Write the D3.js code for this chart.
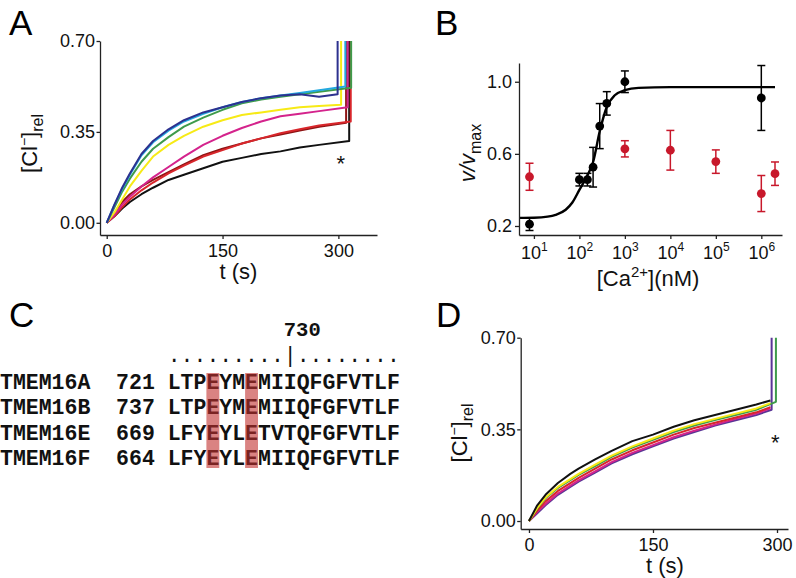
<!DOCTYPE html>
<html><head><meta charset="utf-8">
<script src="https://cdn.jsdelivr.net/npm/d3@7"></script>
<style>body{margin:0;background:#fff} svg{display:block}</style>
</head><body><svg id="fig" width="796" height="578"></svg>
<script>
// ---------------- DATA ----------------
// Panel A: Cl- uptake traces, values read at these times (s)
const tA = [0,10,20,30,45,60,80,100,125,150,175,200,225,250,275];
const cyanA    = [0,0.07,0.13,0.185,0.26,0.31,0.355,0.39,0.42,0.445,0.465,0.48,0.49,0.50,0.51];
const greenA   = [0,0.06,0.12,0.17,0.235,0.285,0.33,0.37,0.405,0.435,0.46,0.475,0.485,0.495,0.505];
const yellowA  = [0,0.04,0.09,0.14,0.20,0.255,0.30,0.335,0.37,0.395,0.415,0.425,0.435,0.445,0.45];
const magentaA = [0,0.03,0.07,0.10,0.14,0.175,0.215,0.255,0.30,0.335,0.365,0.39,0.41,0.42,0.43];
const darkredA = [0,0.035,0.08,0.11,0.14,0.165,0.195,0.225,0.26,0.285,0.305,0.325,0.34,0.355,0.37];
const redA     = [0,0.025,0.06,0.09,0.125,0.155,0.19,0.22,0.255,0.28,0.305,0.325,0.345,0.36,0.375];
const blackA   = [0,0.025,0.055,0.08,0.11,0.135,0.165,0.185,0.21,0.235,0.25,0.265,0.275,0.29,0.30];
const navyA    = [0,0.07,0.135,0.19,0.265,0.315,0.36,0.395,0.425,0.445,0.465,0.48,0.49,0.495,0.485];
const seriesA  = [blackA, darkredA, redA, magentaA, yellowA, greenA, cyanA, navyA];
const colorsA  = ["#111111","#8e1414","#d8262b","#d4238c","#f7ea16","#3f9b4b","#23a9df","#2d318f"];
const endTA    = [314, 310, 316, 312, 303.5, 316.5, 309, 299];   // time of the final jump
const endVA    = [0.315, 0.385, 0.39, 0.445, 0.455, 0.52, 0.525, 0.495];
const ticksA_y = [0, 0.35, 0.70];
const ticksA_x = [0, 150, 300];

// Panel B: Ca2+ dependence
const caBlack   = [8, 100, 150, 200, 280, 400, 1000, 1e6];
const vBlack    = [0.21, 0.457, 0.457, 0.526, 0.754, 0.88, 1.0, 0.91];
const errBlack  = [0.035, 0.035, 0.035, 0.11, 0.125, 0.065, 0.06, 0.18];
const caRed     = [8, 1000, 1e4, 1e5, 1e6, 2e6];
const vRed      = [0.473, 0.628, 0.62, 0.557, 0.38, 0.49];
const errRed    = [0.075, 0.045, 0.11, 0.065, 0.10, 0.065];
const fitCa     = [4.7, 10, 20, 30, 50, 70, 100, 150, 200, 280, 400, 600, 1000, 2000, 1e4, 2e6];
const fitV      = [0.245, 0.246, 0.252, 0.262, 0.29, 0.33, 0.40, 0.48, 0.555, 0.725, 0.86, 0.925, 0.953, 0.966, 0.97, 0.97];
const ticksB_y  = [0.2, 0.6, 1.0];
const ticksB_x  = [1e1, 1e2, 1e3, 1e4, 1e5, 1e6];

// Panel C: alignment
const namesC  = ["TMEM16A","TMEM16B","TMEM16E","TMEM16F"];
const startsC = [721, 737, 669, 664];
const seqsC   = ["LTPEYMEMIIQFGFVTLF","LTPEYMEMIIQFGFVTLF","LFYEYLETVTQFGFVTLF","LFYEYLEMIIQFGFVTLF"];
const highlightColsC = [3, 6];
const rulerC  = ".........|........";
const markerC = "730";
const markerColC = 9;

// Panel D: traces
const tD = [0,10,20,35,50,60,80,100,125,150,175,200,225,250,275];
const blueD    = [0,0.03,0.06,0.10,0.13,0.15,0.185,0.22,0.255,0.285,0.315,0.34,0.365,0.385,0.405];
const magentaD = [0,0.035,0.065,0.105,0.135,0.155,0.19,0.225,0.26,0.29,0.32,0.345,0.368,0.39,0.41];
const redD     = [0,0.04,0.075,0.115,0.145,0.165,0.20,0.235,0.27,0.30,0.33,0.355,0.375,0.395,0.415];
const greenD   = [0,0.048,0.087,0.126,0.156,0.176,0.21,0.245,0.28,0.31,0.34,0.365,0.386,0.405,0.425];
const yellowD  = [0,0.05,0.09,0.13,0.16,0.18,0.215,0.25,0.285,0.315,0.345,0.37,0.39,0.41,0.43];
const blackD   = [0,0.06,0.10,0.145,0.18,0.20,0.235,0.268,0.305,0.33,0.36,0.385,0.405,0.425,0.445];
const seriesD  = [blueD, magentaD, redD, greenD, yellowD, blackD];
const colorsD  = ["#5a3596","#d4238c","#d8262b","#3f9b4b","#f7ea16","#111111"];
const endTD    = [293.5, 292, 292, 298.7, 292, 292];
const endVD    = [0.425, 0.43, 0.435, 0.455, 0.45, 0.46];
const jumpD    = [true, false, false, true, false, false];
const ticksD_y = [0, 0.35, 0.70];
const ticksD_x = [0, 150, 300];

// ---------------- DRAWING ----------------
const FONT = '"Liberation Sans", Arial, Helvetica, sans-serif';
const MONO = '"Liberation Mono", "Courier New", monospace';
const svg = d3.select("#fig");
svg.append("rect").attr("width",796).attr("height",578).attr("fill","#fff");

function styleAxis(g, fs){
  g.attr("font-family", FONT).attr("font-size", fs || 18);
  g.select(".domain").attr("stroke","#222").attr("stroke-width",1.3);
  g.selectAll(".tick line").attr("stroke","#222").attr("stroke-width",1.3);
  g.selectAll(".tick text").attr("fill","#111");
}
function panelLabel(txt, x, y){
  svg.append("text").attr("x",x).attr("y",y).attr("font-family",FONT)
    .attr("font-size",35).attr("fill","#000").text(txt);
}
function clTitle(x, y){
  const t = svg.append("text").attr("transform",`translate(${x},${y}) rotate(-90)`)
    .attr("text-anchor","middle").attr("font-family",FONT).attr("font-size",22).attr("fill","#111");
  t.append("tspan").text("[Cl");
  t.append("tspan").attr("dy",-8).attr("font-size",14).text("\u2212");
  t.append("tspan").attr("dy",8).text("]");
  t.append("tspan").attr("dy",6).attr("font-size",16).text("rel");
}
function tTitle(x, y){
  svg.append("text").attr("x",x).attr("y",y).attr("text-anchor","middle")
    .attr("font-family",FONT).attr("font-size",22).attr("fill","#111").text("t (s)");
}
function traces(g, x, y, times, series, colors, endT, endV, jumps, top){
  series.forEach((vals, i) => {
    const pts = times.map((t,k) => [t, vals[k]]).filter(p => p[0] < endT[i]);
    pts.push([endT[i], endV[i]]);
    if (jumps[i]) pts.push([endT[i], top]);
    g.append("path").attr("d", d3.line().x(p=>x(p[0])).y(p=>y(p[1]))(pts))
      .attr("fill","none").attr("stroke",colors[i]).attr("stroke-width",2)
      .attr("stroke-linejoin","round");
  });
}

// ---- Panel A ----
{
  const x = d3.scaleLinear().domain([-8.7, 350]).range([100, 377]);
  const y = d3.scaleLinear().domain([-0.047, 0.70]).range([235, 41]);
  const g = svg.append("g");
  traces(g, x, y, tA, seriesA, colorsA, endTA, endVA, seriesA.map(()=>true), 0.70);
  const ay = svg.append("g").attr("transform","translate(100,0)")
    .call(d3.axisLeft(y).tickValues(ticksA_y).tickFormat(d3.format(".2f")).tickSize(3.5).tickPadding(1.5).tickSizeOuter(0));
  styleAxis(ay);
  const ax = svg.append("g").attr("transform","translate(0,235)")
    .call(d3.axisBottom(x).tickValues(ticksA_x).tickSize(4).tickPadding(5).tickSizeOuter(0));
  styleAxis(ax);
  svg.append("text").attr("x", x(303)).attr("y", y(0.25)+13).attr("text-anchor","middle")
    .attr("font-family",FONT).attr("font-size",22).attr("fill","#111").text("*");
  clTitle(36.5, 143.5);
  tTitle(238.5, 279);
  panelLabel("A", 9, 35);
}

// ---- Panel B ----
{
  const x = d3.scaleLog().domain([4.7, 2.85e6]).range([519, 782]);
  const y = d3.scaleLinear().domain([0.15, 1.104]).range([235, 63]);
  const g = svg.append("g");
  g.append("path").attr("d", d3.line().curve(d3.curveMonotoneX).x((d,i)=>x(fitCa[i])).y(d=>y(d))(fitV))
    .attr("fill","none").attr("stroke","#000").attr("stroke-width",2.4);
  function points(cas, vs, es, col){
    cas.forEach((c,i) => {
      const cx = x(c);
      g.append("line").attr("x1",cx).attr("x2",cx).attr("y1",y(vs[i]-es[i])).attr("y2",y(vs[i]+es[i]))
        .attr("stroke",col).attr("stroke-width",1.5);
      [vs[i]-es[i], vs[i]+es[i]].forEach(v => g.append("line").attr("x1",cx-4).attr("x2",cx+4)
        .attr("y1",y(v)).attr("y2",y(v)).attr("stroke",col).attr("stroke-width",1.5));
      g.append("circle").attr("cx",cx).attr("cy",y(vs[i])).attr("r",4.4).attr("fill",col);
    });
  }
  points(caRed, vRed, errRed, "#c8182b");
  points(caBlack, vBlack, errBlack, "#000");
  const ay = svg.append("g").attr("transform","translate(519,0)")
    .call(d3.axisLeft(y).tickValues(ticksB_y).tickFormat(d3.format(".1f")).tickSize(4).tickPadding(3).tickSizeOuter(0));
  styleAxis(ay);
  const ax = svg.append("g").attr("transform","translate(0,235)")
    .call(d3.axisBottom(x).tickValues(ticksB_x).tickFormat(()=>"").tickSize(4).tickSizeOuter(0));
  styleAxis(ax);
  ax.selectAll(".tick text").remove();
  ax.selectAll(".tick").each(function(d){
    const t = d3.select(this).append("text").attr("y",24).attr("text-anchor","middle")
      .attr("fill","#111").attr("font-size",18);
    t.append("tspan").text("10");
    t.append("tspan").attr("dy",-8).attr("font-size",12).text(String(Math.round(Math.log10(d))));
  });
  const yl = svg.append("text").attr("transform","translate(475,153) rotate(-90)")
    .attr("text-anchor","middle").attr("font-family",FONT).attr("font-size",22).attr("fill","#111");
  yl.append("tspan").attr("font-style","italic").text("v/v");
  yl.append("tspan").attr("dy",6).attr("font-size",16).text("max");
  const xl = svg.append("text").attr("x",648).attr("y",286).attr("text-anchor","middle")
    .attr("font-family",FONT).attr("font-size",22).attr("fill","#111");
  xl.append("tspan").text("[Ca");
  xl.append("tspan").attr("dy",-9).attr("font-size",15).text("2+");
  xl.append("tspan").attr("dy",9).text("](nM)");
  panelLabel("B", 435, 35);
}

// ---- Panel C ----
{
  const col = d3.scaleLinear().domain([0, 1]).range([0, 12.9]);
  const row = d3.scaleLinear().domain([0, 3]).range([388.8, 465.4]);
  const seqCol = 13;
  const g = svg.append("g").attr("font-family",MONO).attr("font-size",21.5).attr("font-weight","bold").attr("fill","#111");
  namesC.forEach((n,i) => {
    g.append("text").attr("x",col(0)).attr("y",row(i)).text(n);
    g.append("text").attr("x",col(9)).attr("y",row(i)).text(String(startsC[i]));
    g.append("text").attr("x",col(seqCol)).attr("y",row(i)).text(seqsC[i]);
  });
  g.append("text").attr("x",col(seqCol)).attr("y",362).attr("font-weight","normal").text(rulerC);
  g.append("text").attr("x",col(seqCol+markerColC)).attr("y",335.5).attr("font-size",20.5).text(markerC);
  highlightColsC.forEach(c => {
    svg.append("rect").attr("x",col(seqCol+c)).attr("width",col(1)).attr("y",373).attr("height",95)
      .attr("fill","#c1302f").attr("fill-opacity",0.6);
  });
  panelLabel("C", 9, 327);
}

// ---- Panel D ----
{
  const x = d3.scaleLinear().domain([-10, 313.3]).range([520.7, 788]);
  const y = d3.scaleLinear().domain([-0.0305, 0.70]).range([529, 337.7]);
  const g = svg.append("g");
  traces(g, x, y, tD, seriesD, colorsD, endTD, endVD, jumpD, 0.70);
  const ay = svg.append("g").attr("transform","translate(520.7,0)")
    .call(d3.axisLeft(y).tickValues(ticksD_y).tickFormat(d3.format(".2f")).tickSize(3.5).tickPadding(1.5).tickSizeOuter(0));
  styleAxis(ay);
  const ax = svg.append("g").attr("transform","translate(0,529)")
    .call(d3.axisBottom(x).tickValues(ticksD_x).tickSize(4).tickPadding(5).tickSizeOuter(0));
  styleAxis(ax);
  svg.append("text").attr("x", x(298)).attr("y", y(0.32)+13).attr("text-anchor","middle")
    .attr("font-family",FONT).attr("font-size",22).attr("fill","#111").text("*");
  clTitle(466.5, 433);
  tTitle(665, 573);
  panelLabel("D", 436, 327);
}
</script></body></html>
